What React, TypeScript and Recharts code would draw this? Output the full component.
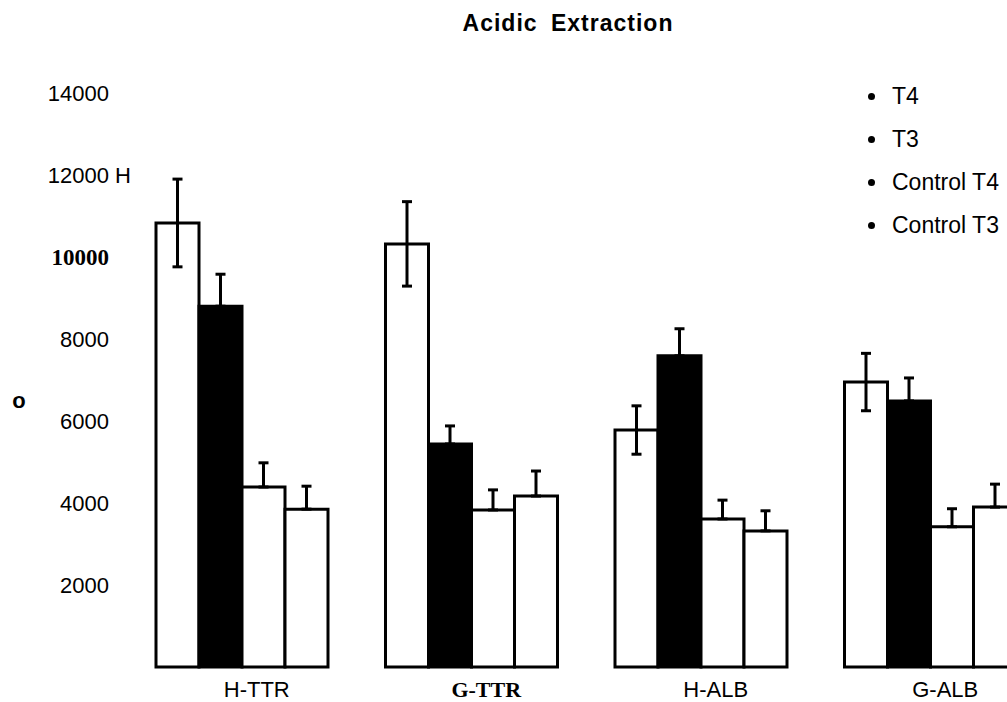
import { BarChart, Bar, XAxis, YAxis, ErrorBar, Legend } from 'recharts';

const categories = ['H-TTR', 'G-TTR', 'H-ALB', 'G-ALB'];
const seriesNames = ['T4', 'T3', 'Control T4', 'Control T3'];

const t4 = [10830, 10320, 5780, 6950];
const t4Err = [1070, 1030, 590, 700];
const t3 = [8800, 5440, 7590, 6490];
const t3Err = [780, 440, 660, 560];
const ctrlT4 = [4390, 3830, 3610, 3420];
const ctrlT4Err = [590, 490, 460, 440];
const ctrlT3 = [3850, 4170, 3320, 3900];
const ctrlT3Err = [560, 610, 490, 560];

const yTicks = [2000, 4000, 6000, 8000, 10000, 12000, 14000];

const SANS = '"Liberation Sans", Arial, sans-serif';
const SERIF = '"Liberation Serif", "Times New Roman", serif';

// only the T4 whiskers go both ways, the rest just point up
const chartData = categories.map((name, i) => ({
  name,
  t4: t4[i],
  t4Err: t4Err[i],
  t3: t3[i],
  t3Err: [0, t3Err[i]],
  ctrlT4: ctrlT4[i],
  ctrlT4Err: [0, ctrlT4Err[i]],
  ctrlT3: ctrlT3[i],
  ctrlT3Err: [0, ctrlT3Err[i]],
}));

function YTick({ x, y, payload }: any) {
  const v = payload.value;
  if (v === 10000) {
    return (
      <text x={x} y={y} textAnchor="end" dominantBaseline="central" style={{ fontFamily: SERIF, fontWeight: 'bold', fontSize: 23 }} fill="#000">
        {v}
      </text>
    );
  }
  return (
    <g>
      <text x={x} y={y} textAnchor="end" dominantBaseline="central" style={{ fontFamily: SANS, fontSize: 22 }} fill="#000">
        {v}
      </text>
      {v === 12000 && (
        <text x={x + 6} y={y} textAnchor="start" dominantBaseline="central" style={{ fontFamily: SANS, fontSize: 22 }} fill="#000">
          H
        </text>
      )}
    </g>
  );
}

function XTick({ x, y, payload }: any) {
  const serif = payload.value === 'G-TTR';
  return (
    <text
      x={x + 15}
      y={y + 20}
      textAnchor="middle"
      dominantBaseline="central"
      style={{ fontFamily: serif ? SERIF : SANS, fontWeight: serif ? 'bold' : 'normal', fontSize: 22 }}
      fill="#000"
    >
      {payload.value}
    </text>
  );
}

function BulletLegend() {
  return (
    <div style={{ fontFamily: SANS, fontSize: 23, color: '#000', whiteSpace: 'nowrap' }}>
      {seriesNames.map((name) => (
        <div key={name} style={{ display: 'flex', alignItems: 'center', height: 43 }}>
          <div style={{ width: 7, height: 7, flexShrink: 0, borderRadius: '50%', background: '#000', marginRight: 17 }} />
          <span>{name}</span>
        </div>
      ))}
    </div>
  );
}

export default function App() {
  return (
    <div style={{ position: 'absolute', left: 0, top: 0, width: 1007, height: 702, overflow: 'hidden', background: '#fff' }}>
      <div
        style={{
          position: 'absolute',
          left: 368,
          top: 12,
          width: 400,
          textAlign: 'center',
          fontFamily: SANS,
          fontWeight: 'bold',
          fontSize: 23,
          lineHeight: '23px',
          letterSpacing: 1,
          wordSpacing: 6,
        }}
      >
        Acidic Extraction
      </div>
      {/* y-axis letter */}
      <div
        style={{
          position: 'absolute',
          left: 12,
          top: 390,
          width: 14,
          textAlign: 'center',
          fontFamily: SANS,
          fontWeight: 'bold',
          fontSize: 22,
          lineHeight: '22px',
        }}
      >
        o
      </div>
      <BarChart
        width={1060}
        height={702}
        data={chartData}
        margin={{ top: 93, right: 15, bottom: 0, left: 0 }}
        barCategoryGap={29}
        barGap={0}
      >
        <XAxis
          dataKey="name"
          axisLine={false}
          tickLine={false}
          tickSize={0}
          height={35}
          interval={0}
          tick={<XTick />}
        />
        <YAxis
          domain={[0, 14000]}
          ticks={yTicks}
          axisLine={false}
          tickLine={false}
          tickSize={0}
          tickMargin={18}
          width={127}
          tick={<YTick />}
        />
        <Legend
          layout="vertical"
          align="left"
          verticalAlign="top"
          wrapperStyle={{ position: 'absolute', left: 868, top: 75, width: 0, height: 0 }}
          content={<BulletLegend />}
        />
        <Bar dataKey="t4" name="T4" fill="#fff" stroke="#000" strokeWidth={3} isAnimationActive={false}>
          <ErrorBar dataKey="t4Err" width={5} strokeWidth={3} stroke="#000" direction="y" />
        </Bar>
        <Bar dataKey="t3" name="T3" fill="#000" stroke="#000" strokeWidth={3} isAnimationActive={false}>
          <ErrorBar dataKey="t3Err" width={5} strokeWidth={3} stroke="#000" direction="y" />
        </Bar>
        <Bar dataKey="ctrlT4" name="Control T4" fill="#fff" stroke="#000" strokeWidth={3} isAnimationActive={false}>
          <ErrorBar dataKey="ctrlT4Err" width={5} strokeWidth={3} stroke="#000" direction="y" />
        </Bar>
        <Bar dataKey="ctrlT3" name="Control T3" fill="#fff" stroke="#000" strokeWidth={3} isAnimationActive={false}>
          <ErrorBar dataKey="ctrlT3Err" width={5} strokeWidth={3} stroke="#000" direction="y" />
        </Bar>
      </BarChart>
    </div>
  );
}
